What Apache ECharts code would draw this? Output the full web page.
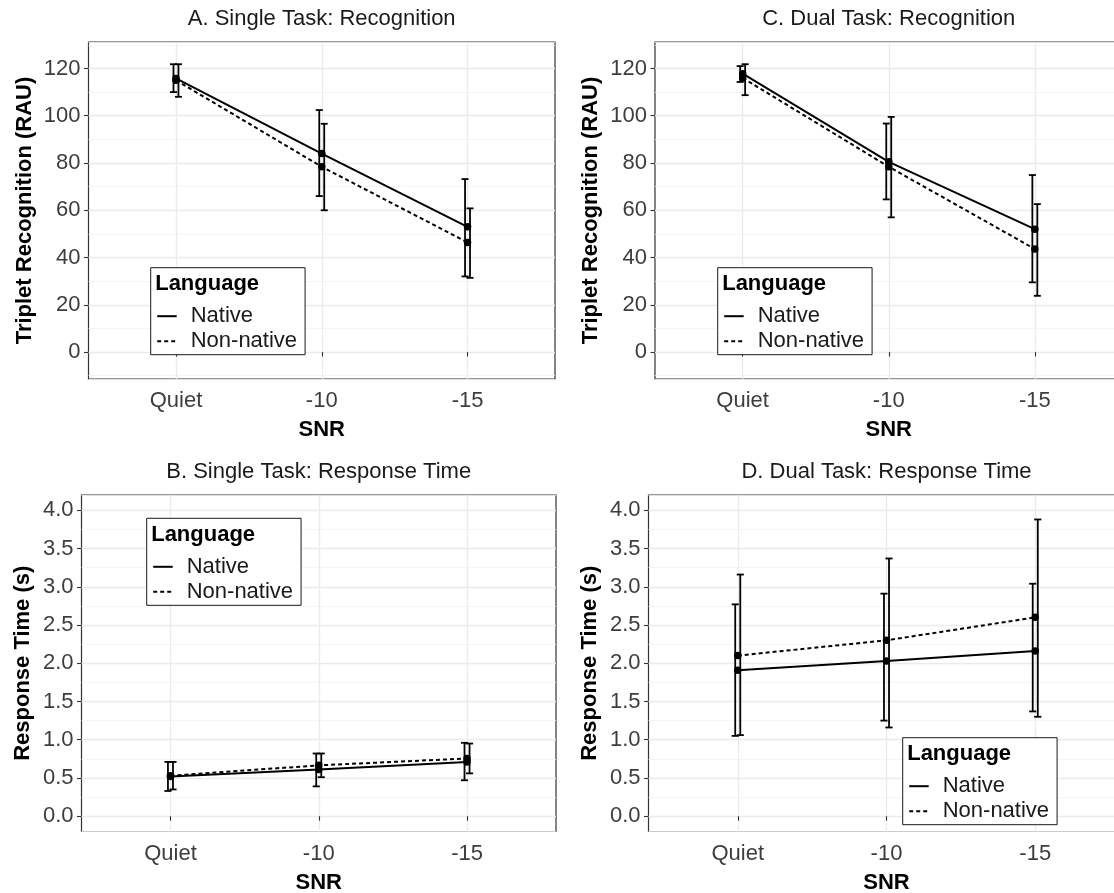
<!DOCTYPE html>
<html><head><meta charset="utf-8">
<script src="https://cdn.jsdelivr.net/npm/echarts@6/dist/echarts.min.js"></script>
<style>html,body{margin:0;padding:0;background:#fff}#chart{width:1114px;height:893px}</style>
</head><body><div id="chart"></div>
<script>
// ---------- data ----------
const snrLevels = ['Quiet', '-10', '-15'];
const languages = ['Native', 'Non-native'];
const legendTitle = 'Language';
const xTitle = 'SNR';
const recogTitle = 'Triplet Recognition (RAU)';
const rtTitle = 'Response Time (s)';
const recogTicks = [0, 20, 40, 60, 80, 100, 120];
const rtTicks = [0.0, 0.5, 1.0, 1.5, 2.0, 2.5, 3.0, 3.5, 4.0];

// A. Single Task: Recognition
const aNativeMean = [115.8, 84.0, 53.0];
const aNativeLo   = [110.0, 66.0, 32.0];
const aNativeHi   = [121.8, 102.4, 73.2];
const aNonMean    = [115.0, 78.4, 46.4];
const aNonLo      = [108.0, 60.0, 31.4];
const aNonHi      = [121.8, 96.6, 60.8];

// C. Dual Task: Recognition
const cNativeMean = [117.8, 80.5, 52.0];
const cNativeLo   = [114.3, 64.6, 29.5];
const cNativeHi   = [121.0, 96.7, 74.9];
const cNonMean    = [116.0, 78.4, 43.6];
const cNonLo      = [108.7, 57.0, 23.8];
const cNonHi      = [121.8, 99.5, 62.6];

// B. Single Task: Response Time
const bNativeMean = [0.52, 0.61, 0.71];
const bNativeLo   = [0.33, 0.39, 0.47];
const bNativeHi   = [0.71, 0.82, 0.96];
const bNonMean    = [0.53, 0.665, 0.755];
const bNonLo      = [0.35, 0.51, 0.56];
const bNonHi      = [0.71, 0.82, 0.95];

// D. Dual Task: Response Time
const dNativeMean = [1.91, 2.03, 2.16];
const dNativeLo   = [1.05, 1.25, 1.37];
const dNativeHi   = [2.77, 2.91, 3.04];
const dNonMean    = [2.10, 2.30, 2.60];
const dNonLo      = [1.06, 1.16, 1.30];
const dNonHi      = [3.16, 3.37, 3.88];

// ---------- layout / style ----------
const FONT = '"Liberation Sans", Arial, Helvetica, sans-serif';
const FS = 22;
// discrete axis emulation: 17 slots spanning 0.4..3.6 in steps of 0.2, levels at 1,2,3
const xSlots = [];
for (let k = 0; k < 17; k++) xSlots.push('');
const slotOf = i => 3 + 5 * i;
snrLevels.forEach((s, i) => { xSlots[slotOf(i)] = s; });
const isLevel = (idx, val) => val !== '';

const panels = [
  { title: 'A. Single Task: Recognition', tx: 321.7, ty: 19,
    grid: { left: 88.5, top: 42, width: 466.5, height: 337 },
    yName: recogTitle, nameGap: 53, yMin: -11.4, yMax: 131.2, ticks: recogTicks, major: 20, minor: 10, dec: 0,
    nat: [aNativeMean, aNativeLo, aNativeHi], non: [aNonMean, aNonLo, aNonHi], box: [150.7, 267.7] },
  { title: 'C. Dual Task: Recognition', tx: 888.7, ty: 19,
    grid: { left: 655, top: 42, width: 467.5, height: 337 },
    yName: recogTitle, nameGap: 53, yMin: -11.4, yMax: 131.2, ticks: recogTicks, major: 20, minor: 10, dec: 0,
    nat: [cNativeMean, cNativeLo, cNativeHi], non: [cNonMean, cNonLo, cNonHi], box: [717.7, 267.7] },
  { title: 'B. Single Task: Response Time', tx: 318.7, ty: 472,
    grid: { left: 81.5, top: 495, width: 474.5, height: 336.5 },
    yName: rtTitle, nameGap: 48, yMin: -0.2, yMax: 4.2, ticks: rtTicks, major: 0.5, minor: 0.25, dec: 1,
    nat: [bNativeMean, bNativeLo, bNativeHi], non: [bNonMean, bNonLo, bNonHi], box: [146.7, 518.3] },
  { title: 'D. Dual Task: Response Time', tx: 886.5, ty: 472,
    grid: { left: 648.5, top: 495, width: 476, height: 336.5 },
    yName: rtTitle, nameGap: 48, yMin: -0.2, yMax: 4.2, ticks: rtTicks, major: 0.5, minor: 0.25, dec: 1,
    nat: [dNativeMean, dNativeLo, dNativeHi], non: [dNonMean, dNonLo, dNonHi], box: [902.7, 737.7] }
];

function errRender(offsetFrac) {
  return function (params, api) {
    const x = api.value(0), lo = api.value(1), hi = api.value(2);
    const step = api.size([1, 0])[0];
    const pLo = api.coord([x, lo]);
    const pHi = api.coord([x, hi]);
    const cx = pLo[0] + offsetFrac * step;
    const cap = 0.12 * step;
    const st = { stroke: '#000', lineWidth: 1.8 };
    return { type: 'group', children: [
      { type: 'line', shape: { x1: cx, y1: pLo[1], x2: cx, y2: pHi[1] }, style: st },
      { type: 'line', shape: { x1: cx - cap, y1: pHi[1], x2: cx + cap, y2: pHi[1] }, style: st },
      { type: 'line', shape: { x1: cx - cap, y1: pLo[1], x2: cx + cap, y2: pLo[1] }, style: st }
    ] };
  };
}

const option = {
  animation: false,
  backgroundColor: '#fff',
  textStyle: { fontFamily: FONT },
  title: [], grid: [], xAxis: [], yAxis: [], legend: [], series: []
};

panels.forEach((p, g) => {
  option.title.push({ text: p.title, left: p.tx, top: p.ty, textAlign: 'center', textVerticalAlign: 'middle', padding: 0,
    textStyle: { fontFamily: FONT, fontSize: FS, fontWeight: 'normal', color: '#1a1a1a' } });
  option.title.push({ text: legendTitle, left: p.box[0] + 4.5, top: p.box[1] + 16.5, textAlign: 'left', textVerticalAlign: 'middle', padding: 0, z: 10,
    textStyle: { fontFamily: FONT, fontSize: FS, fontWeight: 'bold', color: '#000' } });
  option.grid.push(Object.assign({ show: true, borderColor: '#333', borderWidth: 1.2, backgroundColor: 'transparent',
    containLabel: false, outerBoundsMode: 'none' }, p.grid));
  option.xAxis.push({
    type: 'category', gridIndex: g, data: xSlots, boundaryGap: false, position: 'bottom',
    axisLine: { show: false },
    axisTick: { show: true, interval: isLevel, length: 4.5, lineStyle: { color: '#333', width: 1.1 } },
    axisLabel: { interval: isLevel, margin: 11, fontSize: FS, color: '#3d3d3d', fontFamily: FONT },
    splitLine: { show: true, interval: isLevel, lineStyle: { color: '#ebebeb', width: 1.3 } },
    name: xTitle, nameLocation: 'middle', nameGap: 40,
    nameTextStyle: { fontSize: FS, fontWeight: 'bold', color: '#000', fontFamily: FONT }
  });
  // minor grid axis
  option.yAxis.push({
    type: 'value', gridIndex: g, position: 'right', min: p.yMin, max: p.yMax, minInterval: p.minor, maxInterval: p.minor,
    axisLine: { show: false }, axisTick: { show: false }, axisLabel: { show: false },
    splitLine: { show: true, lineStyle: { color: '#f2f2f2', width: 0.8 } }
  });
  // major axis
  option.yAxis.push({
    type: 'value', gridIndex: g, position: 'left', min: p.yMin, max: p.yMax, minInterval: p.major, maxInterval: p.major,
    axisLine: { show: false },
    axisTick: { show: true, length: 4.5, customValues: p.ticks, lineStyle: { color: '#333', width: 1.1 } },
    axisLabel: { customValues: p.ticks, margin: 8, fontSize: FS, color: '#3d3d3d', fontFamily: FONT,
      formatter: v => Number(v).toFixed(p.dec) },
    splitLine: { show: true, lineStyle: { color: '#ebebeb', width: 1.3 } },
    name: p.yName, nameLocation: 'middle', nameGap: p.nameGap,
    nameTextStyle: { fontSize: FS, fontWeight: 'bold', color: '#000', fontFamily: FONT }
  });
  const yi = 2 * g + 1;
  option.legend.push({
    data: languages, orient: 'vertical', left: p.box[0], top: p.box[1],
    padding: [36, 8, 1, 5.5], borderColor: '#1a1a1a', borderWidth: 1, backgroundColor: '#fff',
    itemWidth: 19.5, itemHeight: 25, itemGap: 0, selectedMode: false,
    itemStyle: { opacity: 0 },
    textStyle: { fontSize: FS, color: '#1a1a1a', fontFamily: FONT, lineHeight: 25, padding: [0, 0, 0, 9] }
  });
  [p.nat, p.non].forEach((arr, s) => {
    const [mean, lo, hi] = arr;
    option.series.push({
      type: 'custom', name: languages[s] + ' error', xAxisIndex: g, yAxisIndex: yi, silent: true, z: 2,
      renderItem: errRender(s === 0 ? -0.085 : 0.085),
      encode: { x: 0, y: [1, 2] },
      data: snrLevels.map((lv, i) => [slotOf(i), lo[i], hi[i]])
    });
  });
  [p.nat, p.non].forEach((arr, s) => {
    option.series.push({
      type: 'line', name: languages[s], xAxisIndex: g, yAxisIndex: yi, z: 3,
      data: snrLevels.map((lv, i) => [slotOf(i), arr[0][i]]),
      symbol: 'circle', symbolSize: 7.5, showSymbol: true,
      itemStyle: { color: '#000' },
      lineStyle: { color: '#000', width: 2, type: s === 0 ? 'solid' : [4, 3] },
      emphasis: { disabled: true }
    });
  });
});

const chart = echarts.init(document.getElementById('chart'), null, { renderer: 'canvas', width: 1114, height: 893 });
chart.setOption(option);
</script>
</body></html>
